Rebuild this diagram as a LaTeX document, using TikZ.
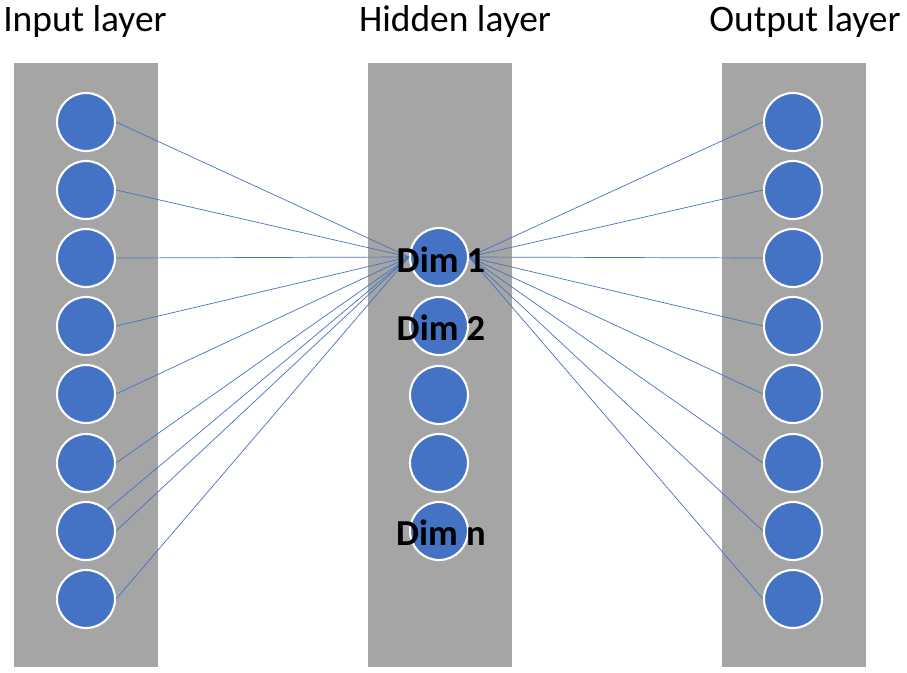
\documentclass[tikz,border=0pt]{standalone}
\usepackage{fontspec}
\setmainfont{Carlito}
\definecolor{nblue}{HTML}{4472C4}
\definecolor{lgray}{HTML}{A5A5A5}

\begin{document}
\begin{tikzpicture}
[
x=0.02cm,y=-0.02cm,
layerbox/.style={fill=lgray,minimum width=2.87cm,minimum height=12.08cm,inner sep=0pt},
neuron/.style={circle,fill=nblue,draw=white,line width=1.2pt,minimum size=1.16cm,inner sep=0pt},
conn/.style={draw=nblue,line width=0.4pt},
heading/.style={font=\fontsize{21.3}{25}\selectfont,anchor=base,inner sep=0pt},
dimtext/.style={font=\fontsize{20.8}{24}\selectfont\bfseries,inner sep=0pt},
]
\useasboundingbox (0,0) rectangle (907,673);

%Place the layers
\node[layerbox] (inlayer) at (86,365) {};
\node[layerbox] (hidlayer) at (440,365) {};
\node[layerbox] (outlayer) at (794,365) {};
\node[heading] (intitle) at (85,31) {Input layer};
\node[heading] (hidtitle) at (455,31) {Hidden layer};
\node[heading] (outtitle) at (805,31) {Output layer};

%Place the nodes
\node[neuron] (in1) at (86,122) {};
\node[neuron] (in2) at (86,190) {};
\node[neuron] (in3) at (86,258) {};
\node[neuron] (in4) at (86,326) {};
\node[neuron] (in5) at (86,394) {};
\node[neuron] (in6) at (86,463) {};
\node[neuron] (in7) at (86,531) {};
\node[neuron] (in8) at (86,599) {};
\node[neuron] (h1) at (439,257) {};
\node[neuron] (h2) at (439,326) {};
\node[neuron] (h3) at (439,395) {};
\node[neuron] (h4) at (439,463) {};
\node[neuron] (h5) at (439,531) {};
\node[neuron] (out1) at (793,122) {};
\node[neuron] (out2) at (793,190) {};
\node[neuron] (out3) at (793,258) {};
\node[neuron] (out4) at (793,326) {};
\node[neuron] (out5) at (793,394) {};
\node[neuron] (out6) at (793,463) {};
\node[neuron] (out7) at (793,531) {};
\node[neuron] (out8) at (793,599) {};

%Draw the connections
\draw[conn] (in1.east) -- (h1.west);
\draw[conn] (in2.east) -- (h1.west);
\draw[conn] (in3.east) -- (h1.west);
\draw[conn] (in4.east) -- (h1.west);
\draw[conn] (in5.east) -- (h1.west);
\draw[conn] (in6.east) -- (h1.west);
\draw[conn] (in7.north east) -- (h1.west);
\draw[conn] (in7.east) -- (h1.west);
\draw[conn] (in8.east) -- (h1.west);
\draw[conn] (h1.east) -- (out1.west);
\draw[conn] (h1.east) -- (out2.west);
\draw[conn] (h1.east) -- (out3.west);
\draw[conn] (h1.east) -- (out4.west);
\draw[conn] (h1.east) -- (out5.west);
\draw[conn] (h1.east) -- (out6.west);
\draw[conn] (h1.east) -- (out7.west);
\draw[conn] (h1.east) -- (out8.west);

%Label the hidden nodes
\node[dimtext] (dim1) at (441,260) {Dim 1};
\node[dimtext] (dim2) at (441,328) {Dim 2};
\node[dimtext] (dimn) at (441,533) {Dim n};
\end{tikzpicture}
\end{document}
